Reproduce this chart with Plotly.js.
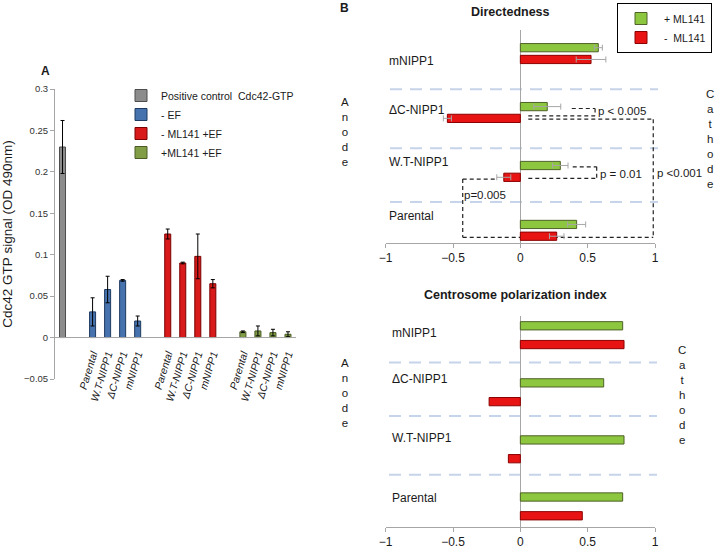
<!DOCTYPE html>
<html>
<head>
<meta charset="utf-8">
<script src="https://cdn.plot.ly/plotly-3.0.1.min.js"></script>
<style>
  html, body { margin: 0; padding: 0; background: #fff; }
  #chart { width: 719px; height: 549px; }
</style>
</head>
<body>
<div id="chart"></div>
<script>
// ---- data ----
const cellLines = ['Parental', 'W.T-NIPP1', 'ΔC-NIPP1', 'mNIPP1'];

// panel A: Cdc42-GTP signal
const seriesA = ['Positive control\u00a0 Cdc42-GTP', '- EF', '- ML141 +EF', '+ML141 +EF'];
const positiveCtrl = [0.230];
const positiveErr = [0.032];
const minusEF = [0.031, 0.058, 0.069, 0.020];
const minusEFErr = [0.017, 0.016, 0.001, 0.006];
const noML141EF = [0.125, 0.090, 0.098, 0.065];
const noML141EFErr = [0.006, 0.001, 0.027, 0.005];
const ML141EF = [0.007, 0.008, 0.006, 0.004];
const ML141EFErr = [0.001, 0.006, 0.004, 0.003];

// panel B: bottom-to-top order of the category axis
const seriesB = ['+ ML141', '-\u00a0 ML141'];
const directPlus = [0.418, 0.297, 0.200, 0.579];
const directPlusErr = [0.067, 0.057, 0.100, 0.030];
const directMinus = [0.270, -0.123, -0.542, 0.525];
const directMinusErr = [0.054, 0.052, 0.030, 0.110];
const centroPlus = [0.760, 0.770, 0.619, 0.760];
const centroMinus = [0.460, -0.089, -0.232, 0.770];

const pLabels = ['p < 0.005', 'p = 0.01', 'p <0.001', 'p=0.005'];

// ---- helpers: pixel -> paper ----
const W = 719, H = 549;
const px = v => v / W;
const py = v => 1 - v / H;

// panel A slot positions: control at 0, then three groups of four
const slots = g => cellLines.map((c, i) => 2 + g * 5 + i);

const colA = {
  grey: ['#8c8c8c', '#4d4d4d'],
  blue: ['#4673ad', '#1f3a60'],
  red: ['#d91a1a', '#7a0000'],
  green: ['#819e47', '#4a5c24']
};
const green = ['#8dc63f', '#4f6228'];
const red = ['#e81414', '#8b0000'];

const errA = arr => ({ type: 'data', array: arr, color: '#000', thickness: 1, width: 2 });
const errB = arr => ({ type: 'data', array: arr, color: '#a6a6a6', thickness: 1, width: 3 });

const barA = (name, x, y, err, c) => ({
  type: 'bar', name: name, x: x, y: y, width: 0.4,
  marker: { color: c[0], line: { color: c[1], width: 1 } },
  error_y: errA(err), xaxis: 'x', yaxis: 'y', legend: 'legend'
});

const traces = [
  barA(seriesA[0], [0], positiveCtrl, positiveErr, colA.grey),
  barA(seriesA[1], slots(0), minusEF, minusEFErr, colA.blue),
  barA(seriesA[2], slots(1), noML141EF, noML141EFErr, colA.red),
  barA(seriesA[3], slots(2), ML141EF, ML141EFErr, colA.green),
  {
    type: 'bar', orientation: 'h', name: seriesB[0], x: directPlus, y: cellLines,
    width: 0.14, offset: 0.03, error_x: errB(directPlusErr),
    marker: { color: green[0], line: { color: green[1], width: 1 } },
    xaxis: 'x2', yaxis: 'y2', legend: 'legend2'
  },
  {
    type: 'bar', orientation: 'h', name: seriesB[1], x: directMinus, y: cellLines,
    width: 0.14, offset: -0.17, error_x: errB(directMinusErr),
    marker: { color: red[0], line: { color: red[1], width: 1 } },
    xaxis: 'x2', yaxis: 'y2', legend: 'legend2'
  },
  {
    type: 'bar', orientation: 'h', name: seriesB[0], x: centroPlus, y: cellLines,
    width: 0.145, offset: 0.092, showlegend: false,
    marker: { color: green[0], line: { color: green[1], width: 1 } },
    xaxis: 'x3', yaxis: 'y3'
  },
  {
    type: 'bar', orientation: 'h', name: seriesB[1], x: centroMinus, y: cellLines,
    width: 0.145, offset: -0.237, showlegend: false,
    marker: { color: red[0], line: { color: red[1], width: 1 } },
    xaxis: 'x3', yaxis: 'y3'
  }
];

const axisGrey = '#a6a6a6';
const font = { family: 'Liberation Sans, Arial, sans-serif', color: '#1a1a1a' };

const xB = (dom, anchor) => ({
  domain: dom, range: [-1, 1], dtick: 0.5, tick0: 0, anchor: anchor,
  ticks: 'outside', ticklen: 4, tickcolor: axisGrey, showline: true, linecolor: axisGrey,
  zeroline: true, zerolinecolor: axisGrey, zerolinewidth: 1, showgrid: false,
  tickfont: { size: 12 }
});
const yB = (dom, anchor, range) => ({
  domain: dom, type: 'category', categoryarray: cellLines, range: range, anchor: anchor,
  showticklabels: false, showline: false, showgrid: false, zeroline: false, ticks: ''
});

// dashed separators between cell lines
const sepShapes = (yref, ys, x0, x1) => ys.map(y => ({
  type: 'line', xref: 'paper', yref: yref, x0: px(x0), x1: px(x1), y0: y, y1: y,
  line: { color: '#c6d4ea', width: 2, dash: '12px,8px' }, layer: 'below'
}));

// significance brackets (data coords of panel B top)
const bracketSegs = [
  [0.382, 2.068, 0.555, 2.068], [0.555, 2.068, 0.555, 1.943], [0.059, 1.943, 0.555, 1.943],
  [0.059, 1.887, 0.987, 1.887], [0.987, 1.887, 0.987, -0.118], [-0.428, -0.118, 0.987, -0.118],
  [0.389, 1.078, 0.567, 1.078], [0.567, 1.078, 0.567, 0.882], [0.059, 0.882, 0.567, 0.882],
  [-0.428, 0.870, -0.175, 0.870], [-0.428, 0.870, -0.428, -0.118]
];
const bracketShapes = bracketSegs.map(s => ({
  type: 'line', xref: 'x2', yref: 'y2', x0: s[0], y0: s[1], x1: s[2], y1: s[3],
  line: { color: '#222', width: 1.2, dash: '4px,3px' }, layer: 'below'
}));

const note = (text, x, y, size, opts) => Object.assign({
  text: text, xref: 'paper', yref: 'paper', x: px(x), y: py(y),
  xanchor: 'left', yanchor: 'middle', showarrow: false, font: { size: size }
}, opts || {});

const vertical = w => w.split('').join('<br>');

const annotations = [
  note('<b>A</b>', 45, 71, 12, { xanchor: 'center' }),
  note('<b>B</b>', 344, 8, 12, { xanchor: 'center' }),
  note('<b>Directedness</b>', 510, 12.5, 12.5, { xanchor: 'center' }),
  note('<b>Centrosome polarization index</b>', 515, 295, 12.5, { xanchor: 'center' }),
  note(vertical('Anode'), 345, 132, 11.5, { xanchor: 'center' }),
  note(vertical('Cathode'), 710, 139, 11.5, { xanchor: 'center' }),
  note(vertical('Anode'), 345, 392.5, 11.5, { xanchor: 'center' }),
  note(vertical('Cathode'), 682, 394.7, 11.5, { xanchor: 'center' }),
  note(pLabels[0], 596, 111, 11.5),
  note(pLabels[1], 598, 174, 11.5),
  note(pLabels[2], 655, 173, 11.5),
  note(pLabels[3], 462, 195, 11.5)
];
const topLabelY = [215.7, 162, 110, 61];
const botLabelY = [498.3, 438.3, 379.3, 333.3];
cellLines.forEach((c, i) => {
  annotations.push(note(c, 387, topLabelY[i], 12));
  annotations.push(note(c, 390, botLabelY[i], 12));
});

const layout = {
  width: W, height: H,
  margin: { l: 0, r: 0, t: 0, b: 0 },
  paper_bgcolor: '#fff', plot_bgcolor: 'rgba(0,0,0,0)',
  font: font,
  barmode: 'overlay',
  xaxis: {
    domain: [px(55), px(295.5)], range: [-0.5, 15.5], anchor: 'free', position: py(337),
    showline: true, linecolor: axisGrey, ticks: '', showgrid: false, zeroline: false,
    tickmode: 'array', tickvals: [].concat(slots(0), slots(1), slots(2)),
    ticktext: [].concat(cellLines, cellLines, cellLines),
    tickangle: -73, ticklabelstandoff: 6,
    tickfont: { size: 10.5, style: 'italic' }
  },
  yaxis: {
    domain: [py(379), py(89)], range: [-0.05, 0.3], dtick: 0.05, tick0: 0, anchor: 'x',
    ticks: 'outside', ticklen: 4, tickcolor: axisGrey, showline: true, linecolor: axisGrey,
    showgrid: false, zeroline: false, tickfont: { size: 9.5, color: '#333' },
    title: { text: 'Cdc42 GTP signal (OD 490nm)', font: { size: 13.5 }, standoff: 8 }
  },
  xaxis2: xB([px(385.7), px(655)], 'y2'),
  yaxis2: yB([py(243), py(30)], 'x2', [-0.215, 3.4]),
  xaxis3: xB([px(385.7), px(655)], 'y3'),
  yaxis3: yB([py(526.7), py(316)], 'x3', [-0.356, 3.336]),
  legend: {
    x: px(121), y: py(81), xanchor: 'left', yanchor: 'top',
    bgcolor: 'rgba(0,0,0,0)', font: { size: 10.5 }, tracegroupgap: 0
  },
  legend2: {
    x: px(712), y: py(3), xanchor: 'right', yanchor: 'top', itemwidth: 36,
    bgcolor: '#fff', bordercolor: '#000', borderwidth: 1, font: { size: 10.5 }
  },
  shapes: [].concat(
    sepShapes('y2', [2.395, 1.395, 0.48], 390, 658),
    sepShapes('y3', [2.523, 1.583, 0.555], 389, 657),
    bracketShapes
  ),
  annotations: annotations
};

Plotly.newPlot('chart', traces, layout, { displayModeBar: false, staticPlot: true });
</script>
</body>
</html>
